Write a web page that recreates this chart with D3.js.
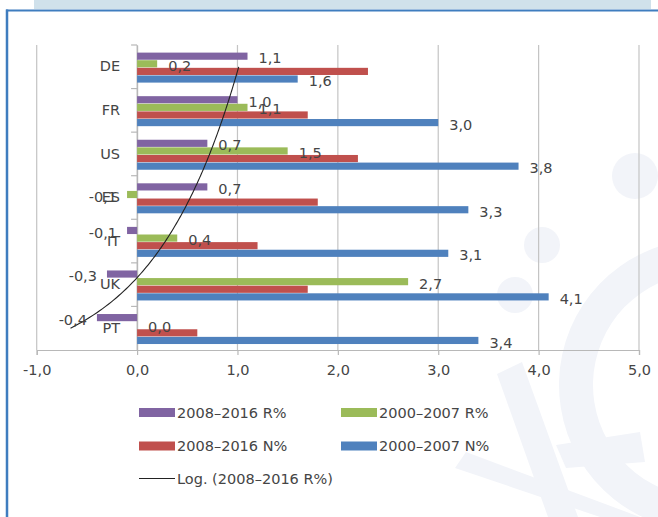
<!DOCTYPE html>
<html>
<head>
<meta charset="utf-8">
<script src="https://cdn.jsdelivr.net/npm/d3@7"></script>
<style>
  html, body { margin: 0; padding: 0; background: #ffffff; }
  svg { display: block; }
  text { font-family: "DejaVu Sans", sans-serif; fill: #454545; }
</style>
</head>
<body>
<svg id="chart" width="658" height="517"></svg>
<script>
// ---- data (top to bottom as shown) ----
const categories = ["DE", "FR", "US", "ES", "IT", "UK", "PT"];
const seriesNames = ["2008–2016 R%", "2000–2007 R%", "2008–2016 N%", "2000–2007 N%"];
const r0816 = [1.1, 1.0, 0.7, 0.7, -0.1, -0.3, -0.4];
const r0007 = [0.2, 1.1, 1.5, -0.1, 0.4, 2.7, 0.0];
const n0816 = [2.3, 1.7, 2.2, 1.8, 1.2, 1.7, 0.6];
const n0007 = [1.6, 3.0, 3.8, 3.3, 3.1, 4.1, 3.4];
const xTicks = [-1, 0, 1, 2, 3, 4, 5];
const trendLabel = "Log. (2008–2016 R%)";

const seriesValues = [r0816, r0007, n0816, n0007];
const seriesColors = ["#8064A2", "#9BBB59", "#C0504D", "#4F81BD"];
const labelled = [true, true, false, true];

const svg = d3.select("#chart");

// ---- page decoration ----
svg.append("rect").attr("x", 34).attr("y", 0).attr("width", 617).attr("height", 9).attr("fill", "#d0e1eb");
// faint watermark
const wm = svg.append("g").attr("fill", "#f2f4f9");
wm.append("path").attr("d", d3.arc()({innerRadius: 112, outerRadius: 146, startAngle: -Math.PI * 0.08, endAngle: -Math.PI * 1.02}))
  .attr("transform", "translate(705,385)");
wm.append("path").attr("d", "M497,374 L522,362 L578,517 L548,517 Z");
wm.append("path").attr("d", "M455,468 L466,452 L640,517 L600,517 Z");
wm.append("path").attr("d", "M556,445 L640,432 L645,462 L566,468 Z");
wm.append("circle").attr("cx", 542).attr("cy", 245).attr("r", 18);
wm.append("circle").attr("cx", 515).attr("cy", 295).attr("r", 18);
wm.append("circle").attr("cx", 635).attr("cy", 176).attr("r", 23);

svg.append("line").attr("x1", 6).attr("x2", 658).attr("y1", 10.5).attr("y2", 10.5)
  .attr("stroke", "#3f7dbf").attr("stroke-width", 2.2);
svg.append("line").attr("x1", 7).attr("x2", 7).attr("y1", 9.5).attr("y2", 517)
  .attr("stroke", "#3f7dbf").attr("stroke-width", 2.5);

// ---- scales ----
const x = d3.scaleLinear().domain([-1, 5]).range([36.7, 639]);
const y0 = d3.scaleBand().domain(categories).range([45, 350]).padding(0);
const y1 = d3.scaleBand().domain(seriesNames).range([7.6, 37.6]).paddingInner(0.06);

const fmt = v => d3.format(".1f")(v).replace(".", ",").replace("\u2212", "-");

// gridlines
svg.append("g").selectAll("line").data(xTicks).join("line")
  .attr("x1", d => x(d)).attr("x2", d => x(d))
  .attr("y1", 45).attr("y2", 350)
  .attr("stroke", "#c4c4c4").attr("stroke-width", 1.2);

// x axis
const xAxis = svg.append("g").attr("transform", "translate(0,350)")
  .call(d3.axisBottom(x).tickValues(xTicks).tickSize(5).tickPadding(10).tickFormat(fmt));
xAxis.select(".domain").attr("stroke", "#b8b8b8").attr("stroke-width", 1.2);
xAxis.selectAll(".tick line").attr("stroke", "#b8b8b8").attr("stroke-width", 1.2);
xAxis.selectAll("text").attr("font-size", 14.5).attr("fill", "#454545")
  .style("font-family", "DejaVu Sans, sans-serif");

// category axis at 0
const yAxis = svg.append("g").attr("transform", `translate(${x(0)},0)`)
  .call(d3.axisLeft(y0).tickSize(0).tickPadding(17));
yAxis.select(".domain").attr("stroke", "#b8b8b8").attr("stroke-width", 1.2);
yAxis.selectAll("text").attr("font-size", 14.5).attr("fill", "#454545")
  .style("font-family", "DejaVu Sans, sans-serif");
// band boundary ticks
svg.append("g").selectAll("line").data(categories).join("line")
  .attr("x1", x(0) - 6).attr("x2", x(0))
  .attr("y1", d => y0(d)).attr("y2", d => y0(d))
  .attr("stroke", "#b8b8b8").attr("stroke-width", 1.2);

// bars
const barsG = svg.append("g");
seriesNames.forEach((s, si) => {
  barsG.append("g").selectAll("rect").data(categories).join("rect")
    .attr("x", (c, i) => x(Math.min(0, seriesValues[si][i])))
    .attr("width", (c, i) => Math.abs(x(seriesValues[si][i]) - x(0)))
    .attr("y", c => y0(c) + y1(s))
    .attr("height", y1.bandwidth())
    .attr("fill", seriesColors[si]);
});

// trendline: logarithmic fit of 2008–2016 R% (Excel order: first category at bottom)
const idxVals = categories.map((c, i) => ({ k: categories.length - i, v: r0816[i] }));
const n = idxVals.length;
const mx = d3.mean(idxVals, d => Math.log(d.k));
const my = d3.mean(idxVals, d => d.v);
const a = d3.sum(idxVals, d => (Math.log(d.k) - mx) * (d.v - my)) / d3.sum(idxVals, d => (Math.log(d.k) - mx) ** 2);
const b = my - a * mx;
const step = y0.step();
const yBottomCenter = y0(categories[n - 1]) + step / 2;
const ks = d3.range(1, n + 0.0001, 0.05);
svg.append("path")
  .attr("d", d3.line().x(k => x(a * Math.log(k) + b)).y(k => yBottomCenter - (k - 1) * step)(ks))
  .attr("fill", "none").attr("stroke", "#222").attr("stroke-width", 1.1);

// data labels
const labG = svg.append("g").attr("font-size", 14.5);
seriesNames.forEach((s, si) => {
  if (!labelled[si]) return;
  labG.append("g").selectAll("text").data(categories).join("text")
    .attr("x", (c, i) => seriesValues[si][i] < 0 ? x(seriesValues[si][i]) - 10 : x(seriesValues[si][i]) + 11)
    .attr("y", c => y0(c) + y1(s) + y1.bandwidth() / 2 + 2)
    .attr("dy", "0.35em")
    .attr("text-anchor", (c, i) => seriesValues[si][i] < 0 ? "end" : "start")
    .text((c, i) => fmt(seriesValues[si][i]));
});

// legend
const legendItems = [
  { name: seriesNames[0], color: seriesColors[0], x: 139, y: 412.5 },
  { name: seriesNames[1], color: seriesColors[1], x: 341, y: 412.5 },
  { name: seriesNames[2], color: seriesColors[2], x: 139, y: 446 },
  { name: seriesNames[3], color: seriesColors[3], x: 341, y: 446 }
];
const lg = svg.append("g").attr("font-size", 14.5);
legendItems.forEach(d => {
  lg.append("rect").attr("x", d.x).attr("y", d.y - 4.5).attr("width", 36).attr("height", 9).attr("fill", d.color);
  lg.append("text").attr("x", d.x + 38).attr("y", d.y).attr("dy", "0.35em").text(d.name);
});
lg.append("line").attr("x1", 139).attr("x2", 175).attr("y1", 478.5).attr("y2", 478.5)
  .attr("stroke", "#222").attr("stroke-width", 1.1);
lg.append("text").attr("x", 177).attr("y", 478.5).attr("dy", "0.35em").text(trendLabel);
</script>
</body>
</html>
